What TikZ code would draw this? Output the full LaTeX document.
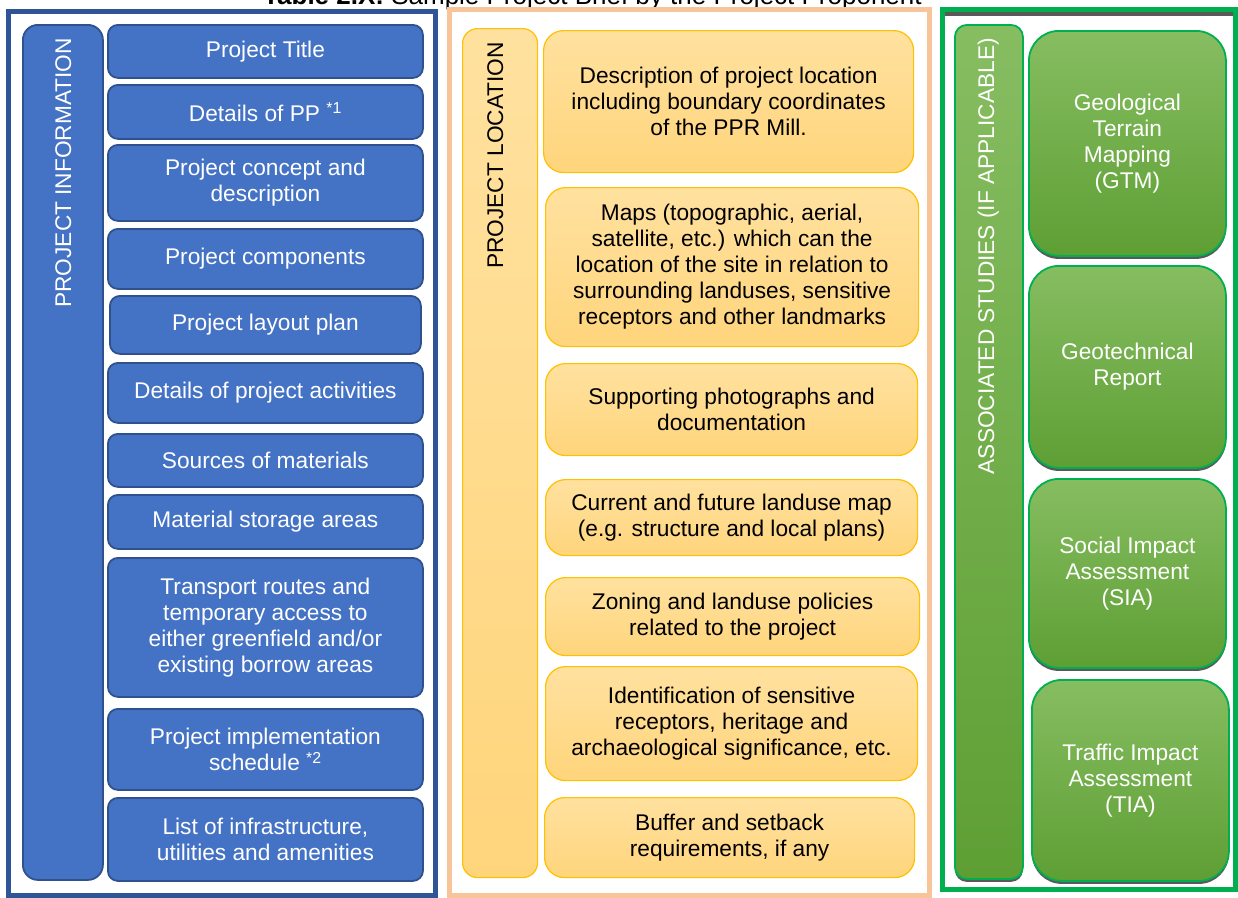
\documentclass[tikz,border=0pt]{standalone}
\usepackage{fontspec}
\setmainfont{Liberation Sans}
\usetikzlibrary{shadows}
\definecolor{bpanel}{HTML}{2F5597}
\definecolor{bfill}{HTML}{4472C4}
\definecolor{bbord}{HTML}{2F528F}
\definecolor{opanel}{HTML}{F8C49A}
\definecolor{otop}{HTML}{FFE19F}
\definecolor{obot}{HTML}{FFD57C}
\definecolor{obord}{HTML}{FFC000}
\definecolor{gpanel}{HTML}{00B050}
\definecolor{gtop}{HTML}{86BD61}
\definecolor{gbot}{HTML}{5E9F34}
\definecolor{gline}{HTML}{595959}
\begin{document}
\begin{tikzpicture}[x=1pt,y=-1pt,
  txt/.style={font=\fontsize{22.7}{26}\selectfont, align=center, inner sep=0pt, anchor=north west},
  bluebox/.style={txt, draw=bbord, fill=bfill, line width=1.8pt, rounded corners=10pt, text=white},
  bluevert/.style={bluebox, rounded corners=15pt},
  orangebox/.style={txt, draw=obord, top color=otop, bottom color=obot, line width=1.2pt, rounded corners=20pt, text=black},
  orangevert/.style={orangebox, rounded corners=15pt},
  greenbox/.style={txt, draw=gpanel, top color=gtop, bottom color=gbot, line width=1.8pt, rounded corners=30pt, text=white,
     drop shadow={shadow xshift=0pt, shadow yshift=-3pt, fill=gline, opacity=1}},
  greenvert/.style={greenbox, rounded corners=12pt},
  vlabel/.style={font=\fontsize{22.7}{26}\selectfont, rotate=90, anchor=base east, inner sep=0pt},
  panel/.style={line width=5pt}
]
\useasboundingbox (0,0) rectangle (1238,897);

% title (partly cut off at the top, as in the reference)
\node[anchor=base west, inner sep=0pt, font=\fontsize{26}{30}\selectfont] (title) at (263,4.5)
  {\textbf{Table 2.X:} Sample Project Brief by the Project Proponent};

% panels
\draw[panel, draw=bpanel] (8.5,11) rectangle (435,895);
\draw[panel, draw=opanel] (449,9) rectangle (929.5,895);
\draw[panel, draw=gpanel] (942.5,9.5) rectangle (1235,889);
\fill[gline] (945,12) rectangle (1232.5,15.5);

% ---------- PROJECT INFORMATION ----------
\node[bluevert, minimum width=80pt, minimum height=855pt] (vb) at (22,24) {};
\node[vlabel, text=white] (vbt) at (71,38) {PROJECT INFORMATION};

\node[bluebox, minimum width=315pt, minimum height=53pt] (b1) at (107,24) {Project Title};
\node[bluebox, minimum width=315pt, minimum height=54pt] (b2) at (107,84) {Details of PP \textsuperscript{*1}};
\node[bluebox, minimum width=315pt, minimum height=76pt] (b3) at (107,144) {Project concept and\\description};
\node[bluebox, minimum width=315pt, minimum height=60pt] (b4) at (107,228) {Project components};
\node[bluebox, minimum width=311pt, minimum height=58pt] (b5) at (109,295) {Project layout plan};
\node[bluebox, minimum width=315pt, minimum height=60pt] (b6) at (107,362) {Details of project activities};
\node[bluebox, minimum width=315pt, minimum height=53pt] (b7) at (107,433) {Sources of materials};
\node[bluebox, minimum width=315pt, minimum height=54pt] (b8) at (107,494) {Material storage areas};
\node[bluebox, minimum width=315pt, minimum height=139pt] (b9) at (107,557) {Transport routes and\\temporary access to\\either greenfield and/or\\existing borrow areas};
\node[bluebox, minimum width=315pt, minimum height=81pt] (b10) at (107,708) {Project implementation\\schedule \textsuperscript{*2}};
\node[bluebox, minimum width=315pt, minimum height=83pt] (b11) at (107,797) {List of infrastructure,\\utilities and amenities};

% ---------- PROJECT LOCATION ----------
\node[orangevert, minimum width=75pt, minimum height=849pt] (vo) at (462,28) {};
\node[vlabel, text=black] (vot) at (503,42) {PROJECT LOCATION};

\node[orangebox, minimum width=370pt, minimum height=142pt] (o1) at (543,30) {Description of project location\\including boundary coordinates\\of the PPR Mill.};
\node[orangebox, minimum width=373pt, minimum height=159pt] (o2) at (545,187) {Maps (topographic, aerial,\\satellite, etc.) which can the\\location of the site in relation to\\surrounding landuses, sensitive\\receptors and other landmarks};
\node[orangebox, minimum width=372pt, minimum height=92pt] (o3) at (545,363) {Supporting photographs and\\documentation};
\node[orangebox, minimum width=372pt, minimum height=76pt] (o4) at (545,479) {Current and future landuse map\\(e.g. structure and local plans)};
\node[orangebox, minimum width=374pt, minimum height=78pt] (o5) at (545,577) {Zoning and landuse policies\\related to the project};
\node[orangebox, minimum width=372pt, minimum height=114pt] (o6) at (545,666) {Identification of sensitive\\receptors, heritage and\\archaeological significance, etc.};
\node[orangebox, minimum width=370pt, minimum height=80pt] (o7) at (544,797) {Buffer and setback\\requirements, if any};

% ---------- ASSOCIATED STUDIES ----------
\node[greenvert, minimum width=68pt, minimum height=854pt] (vg) at (954,24) {};
\node[vlabel, text=white] (vgt) at (994,38) {ASSOCIATED STUDIES (IF APPLICABLE)};

\node[greenbox, minimum width=197pt, minimum height=225pt] (g1) at (1028,30) {Geological\\Terrain\\Mapping\\(GTM)};
\node[greenbox, minimum width=197pt, minimum height=202pt] (g2) at (1028,265) {Geotechnical\\Report};
\node[greenbox, minimum width=197pt, minimum height=189pt] (g3) at (1028,478) {Social Impact\\Assessment\\(SIA)};
\node[greenbox, minimum width=197pt, minimum height=201pt] (g4) at (1031,679) {Traffic Impact\\Assessment\\(TIA)};
\end{tikzpicture}
\end{document}
